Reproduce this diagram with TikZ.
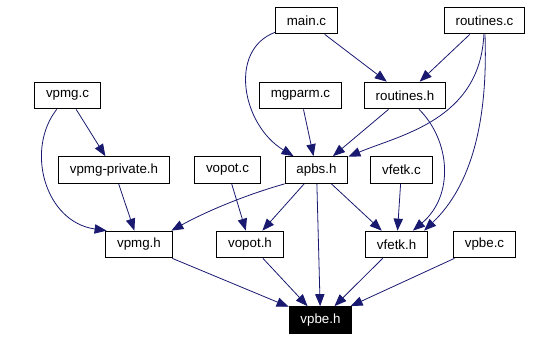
\documentclass[tikz,border=0pt]{standalone}
\usepackage{fontspec}
\setmainfont{Liberation Sans}
\usetikzlibrary{arrows.meta}
\definecolor{edgeblue}{HTML}{191970}

\begin{document}
\begin{tikzpicture}[x=0.75pt, y=-0.75pt,
    every node/.style={draw, line width=0.8pt, minimum height=20pt, inner xsep=8.5pt, inner ysep=0pt, font=\fontsize{10}{12}\selectfont},
    dep/.style={draw=edgeblue, line width=0.6pt, -{Triangle[length=9pt, width=7pt]}}]
    \useasboundingbox (0,0) rectangle (555,340);

    \node (mainc) at (306.5,20.5) {main.c};
    \node (routinesc) at (484.5,20.5) {routines.c};
    \node (vpmgc) at (67.5,95.5) {vpmg.c};
    \node (mgparmc) at (300.5,95.5) {mgparm.c};
    \node (routinesh) at (405,95.5) {routines.h};
    \node (vpmgprivh) at (114,170) {vpmg-private.h};
    \node (vopotc) at (227.5,170) {vopot.c};
    \node (apbsh) at (316.5,170) {apbs.h};
    \node (vfetkc) at (401.5,170) {vfetk.c};
    \node (vpmgh) at (139,244.5) {vpmg.h};
    \node (vopoth) at (250,244.5) {vopot.h};
    \node (vfetkh) at (396.6,244.5) {vfetk.h};
    \node (vpbec) at (484.5,244.5) {vpbe.c};
    \node[fill=black, text=white] (vpbeh) at (320.5,320) {vpbe.h};

    \draw[dep] (mainc) .. controls (228,50) and (242,125) .. (apbsh);
    \draw[dep] (mainc) -- (routinesh);
    \draw[dep] (routinesc) -- (routinesh);
    \draw[dep] (routinesc) .. controls (480,120) and (400,135) .. (apbsh);
    \draw[dep] (routinesc) .. controls (488,120) and (472,185) .. ([xshift=-3pt]vfetkh.north east);
    \draw[dep] (vpmgc) -- (vpmgprivh);
    \draw[dep] (vpmgc) .. controls (25,150) and (45,222) .. ([xshift=1pt]vpmgh.north west);
    \draw[dep] (mgparmc) -- (apbsh);
    \draw[dep] (routinesh) -- (apbsh);
    \draw[dep] (routinesh) .. controls (450,140) and (455,195) .. (vfetkh);
    \draw[dep] (vpmgprivh) -- (vpmgh);
    \draw[dep] (vopotc) -- (vopoth);
    \draw[dep] (apbsh.south west) .. controls (245,195) and (205,212) .. ([xshift=-1pt]vpmgh.north east);
    \draw[dep] (apbsh) -- (vopoth);
    \draw[dep] (apbsh) -- (vpbeh);
    \draw[dep] (apbsh) -- (vfetkh);
    \draw[dep] (vfetkc) -- (vfetkh);
    \draw[dep] (vpmgh) -- (vpbeh);
    \draw[dep] (vopoth) -- (vpbeh);
    \draw[dep] (vfetkh) -- (vpbeh);
    \draw[dep] (vpbec) -- (vpbeh);
\end{tikzpicture}
\end{document}
